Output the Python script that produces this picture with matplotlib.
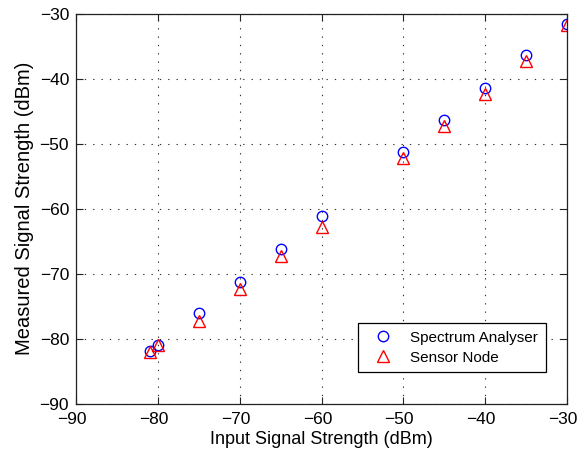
import matplotlib
matplotlib.use("Agg")
import matplotlib.pyplot as plt
from matplotlib.transforms import ScaledTranslation

plt.rcParams['font.family'] = ['Liberation Sans', 'DejaVu Sans']

input_dbm = [-81, -80, -75, -70, -65, -60, -50, -45, -40, -35, -30]
analyser_dbm = [-81.9, -81.0, -76.0, -71.3, -66.2, -61.1, -51.2, -46.4, -41.4, -36.4, -31.5]
sensor_dbm = [-82.0, -81.0, -77.3, -72.4, -67.3, -62.8, -52.2, -47.2, -42.3, -37.2, -31.8]

x_ticks = [-90, -80, -70, -60, -50, -40, -30]
y_ticks = [-90, -80, -70, -60, -50, -40, -30]

fig = plt.figure(figsize=(5.79, 4.55), dpi=100)
ax = fig.add_axes([0.1313, 0.1127, 0.848, 0.857])

ax.plot(input_dbm, analyser_dbm, linestyle='none', marker='o', markersize=7.5,
        markerfacecolor='none', markeredgecolor='#0000ff', markeredgewidth=1.0,
        label='Spectrum Analyser')
ax.plot(input_dbm, sensor_dbm, linestyle='none', marker='^', markersize=8,
        markerfacecolor='none', markeredgecolor='#ff0000', markeredgewidth=1.0,
        label='Sensor Node')

ax.set_xlim(-90, -30)
ax.set_ylim(-90, -30)
ax.set_xticks(x_ticks)
ax.set_yticks(y_ticks)
ax.set_xticklabels([f"\u2212{abs(v)}" for v in x_ticks])
ax.set_yticklabels([f"\u2212{abs(v)}" for v in y_ticks])

ax.grid(True, linestyle=(0, (1.2, 6.3)), color='#333333', linewidth=0.8)
ax.tick_params(direction='in', top=True, right=True, length=5, width=0.8,
               labelsize=12.5, colors='#222222', labelcolor='black')
ax.tick_params(axis='x', pad=6)
ax.tick_params(axis='y', pad=5)
for s in ax.spines.values():
    s.set_linewidth(0.9)
    s.set_color('#222222')

# nudge x tick labels slightly left so the last one stays inside the figure
shift = ScaledTranslation(-4 / 100, 0, fig.dpi_scale_trans)
for lbl in ax.get_xticklabels():
    lbl.set_transform(lbl.get_transform() + shift)

ax.set_xlabel('Input Signal Strength (dBm)', fontsize=13, labelpad=3)
ax.set_ylabel('Measured Signal Strength (dBm)', fontsize=14.5, labelpad=4)

leg = ax.legend(loc='lower right', bbox_to_anchor=(0.957, 0.0805), fontsize=11,
                fancybox=False, framealpha=1, edgecolor='black',
                borderpad=0.5, labelspacing=0.4, handletextpad=0.72,
                handlelength=2.18, borderaxespad=0)
leg.get_frame().set_linewidth(0.9)

fig.savefig('out.png', dpi=100)
